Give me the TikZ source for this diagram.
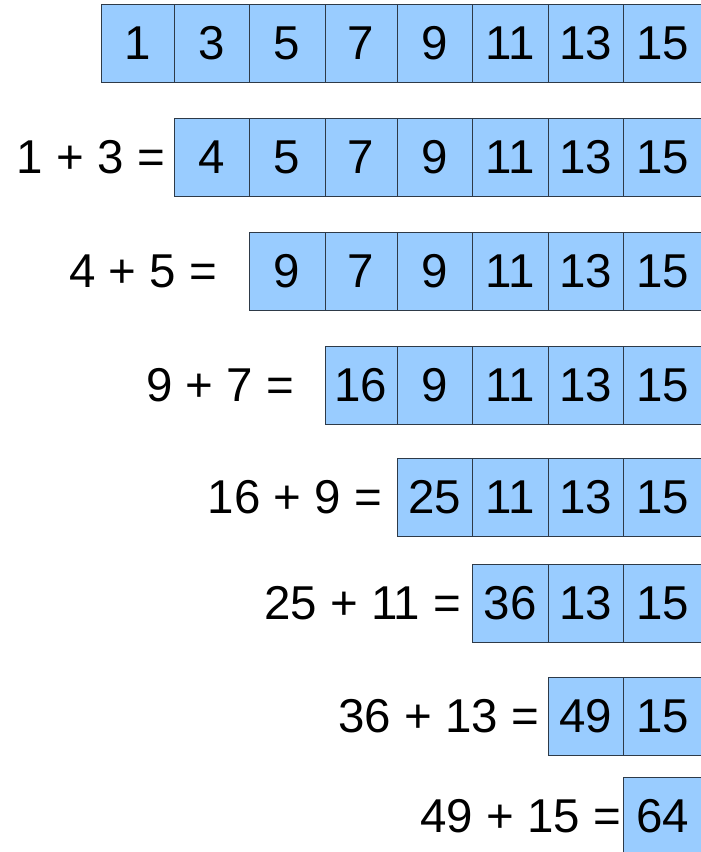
\documentclass[tikz,border=0pt]{standalone}
\usepackage{fontspec}
\setmainfont{Liberation Sans}
\definecolor{cellfill}{HTML}{99CCFF}
\definecolor{celldraw}{HTML}{2E3A48}
\begin{document}
\begin{tikzpicture}[x=1pt,y=-1pt,
  cell/.style={draw=celldraw, line width=1pt, fill=cellfill, inner sep=0pt,
    minimum height=78.5pt, font=\fontsize{47.5}{57}\selectfont},
  eqlabel/.style={anchor=east, inner sep=0pt, font=\fontsize{47.5}{57}\selectfont}]
\useasboundingbox (0,0) rectangle (701,852);
\clip (0,0) rectangle (701,852);
% column boundaries
\def\colx{{101,174,249,325,397,472.5,548,623,703}}
\def\rowy{{4,118,232,346,458,564,677,777}}
\newcommand{\cellrow}[3]{% row index, first column index, list of values
  \foreach \v [count=\k from 0] in {#3} {
    \pgfmathsetmacro{\ci}{int(#2+\k)}
    \pgfmathsetmacro{\xl}{\colx[\ci]}
    \pgfmathsetmacro{\xr}{\colx[\ci+1]}
    \pgfmathsetmacro{\yt}{\rowy[#1]}
    \node[cell, minimum width={(\xr-\xl)*1pt}] (r#1c\ci) at ({(\xl+\xr)/2},{\yt+39.25}) {\v};
  }}
\cellrow{0}{0}{1,3,5,7,9,11,13,15}
\cellrow{1}{1}{4,5,7,9,11,13,15}
\cellrow{2}{2}{9,7,9,11,13,15}
\cellrow{3}{3}{16,9,11,13,15}
\cellrow{4}{4}{25,11,13,15}
\cellrow{5}{5}{36,13,15}
\cellrow{6}{6}{49,15}
\cellrow{7}{7}{64}
\node[eqlabel] (l1) at (165,157.25) {1 + 3 =};
\node[eqlabel] (l2) at (217.5,271.25) {4 + 5 =};
\node[eqlabel] (l3) at (294.5,385.25) {9 + 7 =};
\node[eqlabel] (l4) at (382.5,497.25) {16 + 9 =};
\node[eqlabel] (l5) at (461.5,603.25) {25 + 11 =};
\node[eqlabel] (l6) at (539.5,716.25) {36 + 13 =};
\node[eqlabel] (l7) at (621.5,816.25) {49 + 15 =};
\end{tikzpicture}
\end{document}
